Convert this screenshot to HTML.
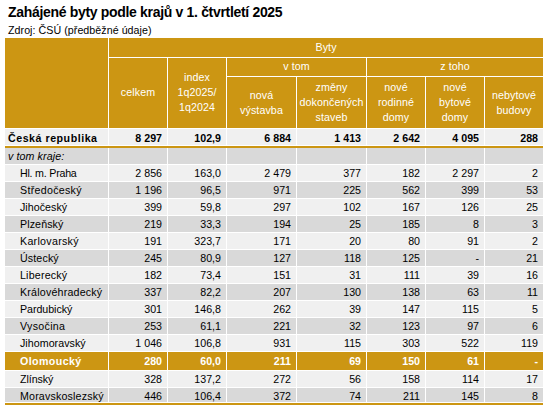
<!DOCTYPE html>
<html><head><meta charset="utf-8"><style>
html,body{margin:0;padding:0;background:#fff;}
body{width:544px;height:405px;overflow:hidden;position:relative;font-family:"Liberation Sans", sans-serif;font-size:10.67px;color:#000;}
div{position:absolute;}
.t{white-space:nowrap;line-height:15px;}
</style></head><body>
<div style="left:5px;top:38px;width:538px;height:90px;background:#cc9613"></div>
<div style="left:108px;top:57px;width:435px;height:1px;background:#fff"></div>
<div style="left:226px;top:76px;width:317px;height:1px;background:#fff"></div>
<div style="left:108px;top:38px;width:1px;height:90px;background:#fff"></div>
<div style="left:167px;top:57px;width:1px;height:71px;background:#fff"></div>
<div style="left:226px;top:57px;width:1px;height:71px;background:#fff"></div>
<div style="left:366px;top:57px;width:1px;height:71px;background:#fff"></div>
<div style="left:296px;top:76px;width:1px;height:52px;background:#fff"></div>
<div style="left:425px;top:76px;width:1px;height:52px;background:#fff"></div>
<div style="left:484px;top:76px;width:1px;height:52px;background:#fff"></div>
<div style="left:5px;top:128px;width:538px;height:1px;background:#fff"></div>
<div style="left:5px;top:129px;width:538px;height:16px;background:#f0f0f0"></div>
<div style="left:5px;top:148px;width:538px;height:16px;background:#d9d9d9"></div>
<div style="left:5px;top:165px;width:538px;height:16px;background:#f0f0f0"></div>
<div style="left:5px;top:182px;width:538px;height:16px;background:#d9d9d9"></div>
<div style="left:5px;top:199px;width:538px;height:16px;background:#f0f0f0"></div>
<div style="left:5px;top:216px;width:538px;height:16px;background:#d9d9d9"></div>
<div style="left:5px;top:233px;width:538px;height:16px;background:#f0f0f0"></div>
<div style="left:5px;top:250px;width:538px;height:16px;background:#d9d9d9"></div>
<div style="left:5px;top:267px;width:538px;height:16px;background:#f0f0f0"></div>
<div style="left:5px;top:284px;width:538px;height:16px;background:#d9d9d9"></div>
<div style="left:5px;top:301px;width:538px;height:16px;background:#f0f0f0"></div>
<div style="left:5px;top:318px;width:538px;height:16px;background:#d9d9d9"></div>
<div style="left:5px;top:335px;width:538px;height:16px;background:#f0f0f0"></div>
<div style="left:5px;top:352px;width:538px;height:18px;background:#cc9613"></div>
<div style="left:5px;top:371px;width:538px;height:16px;background:#f0f0f0"></div>
<div style="left:5px;top:388px;width:538px;height:14px;background:#d9d9d9"></div>
<div style="left:5px;top:146px;width:538px;height:2px;background:#cc9613"></div>
<div style="left:5px;top:403px;width:538px;height:2px;background:#cc9613"></div>
<div style="left:108px;top:129px;width:1px;height:16px;background:#fff"></div>
<div style="left:108px;top:148px;width:1px;height:255px;background:#fff"></div>
<div style="left:167px;top:129px;width:1px;height:16px;background:#fff"></div>
<div style="left:167px;top:148px;width:1px;height:255px;background:#fff"></div>
<div style="left:226px;top:129px;width:1px;height:16px;background:#fff"></div>
<div style="left:226px;top:148px;width:1px;height:255px;background:#fff"></div>
<div style="left:296px;top:129px;width:1px;height:16px;background:#fff"></div>
<div style="left:296px;top:148px;width:1px;height:255px;background:#fff"></div>
<div style="left:366px;top:129px;width:1px;height:16px;background:#fff"></div>
<div style="left:366px;top:148px;width:1px;height:255px;background:#fff"></div>
<div style="left:425px;top:129px;width:1px;height:16px;background:#fff"></div>
<div style="left:425px;top:148px;width:1px;height:255px;background:#fff"></div>
<div style="left:484px;top:129px;width:1px;height:16px;background:#fff"></div>
<div style="left:484px;top:148px;width:1px;height:255px;background:#fff"></div>
<div class="t" style="top:40px;left:109px;width:434px;text-align:center;color:#fff;letter-spacing:0.1px;">Byty</div>
<div class="t" style="top:59px;left:227px;width:139px;text-align:center;color:#fff;letter-spacing:0.1px;">v tom</div>
<div class="t" style="top:59px;left:367px;width:176px;text-align:center;color:#fff;letter-spacing:0.1px;">z toho</div>
<div class="t" style="top:85px;left:109px;width:58px;text-align:center;color:#fff;letter-spacing:0.1px;">celkem</div>
<div class="t" style="top:70px;left:168px;width:58px;text-align:center;color:#fff;letter-spacing:0.1px;">index</div>
<div class="t" style="top:85px;left:168px;width:58px;text-align:center;color:#fff;letter-spacing:0.1px;">1q2025/</div>
<div class="t" style="top:100px;left:168px;width:58px;text-align:center;color:#fff;letter-spacing:0.1px;">1q2024</div>
<div class="t" style="top:88px;left:227px;width:69px;text-align:center;color:#fff;letter-spacing:0.1px;">nová</div>
<div class="t" style="top:103px;left:227px;width:69px;text-align:center;color:#fff;letter-spacing:0.1px;">výstavba</div>
<div class="t" style="top:80px;left:297px;width:69px;text-align:center;color:#fff;letter-spacing:0.1px;">změny</div>
<div class="t" style="top:95px;left:297px;width:69px;text-align:center;color:#fff;letter-spacing:0.1px;">dokončených</div>
<div class="t" style="top:110px;left:297px;width:69px;text-align:center;color:#fff;letter-spacing:0.1px;">staveb</div>
<div class="t" style="top:80px;left:367px;width:58px;text-align:center;color:#fff;letter-spacing:0.1px;">nové</div>
<div class="t" style="top:95px;left:367px;width:58px;text-align:center;color:#fff;letter-spacing:0.1px;">rodinné</div>
<div class="t" style="top:110px;left:367px;width:58px;text-align:center;color:#fff;letter-spacing:0.1px;">domy</div>
<div class="t" style="top:80px;left:426px;width:58px;text-align:center;color:#fff;letter-spacing:0.1px;">nové</div>
<div class="t" style="top:95px;left:426px;width:58px;text-align:center;color:#fff;letter-spacing:0.1px;">bytové</div>
<div class="t" style="top:110px;left:426px;width:58px;text-align:center;color:#fff;letter-spacing:0.1px;">domy</div>
<div class="t" style="top:88px;left:485px;width:58px;text-align:center;color:#fff;letter-spacing:0.1px;">nebytové</div>
<div class="t" style="top:103px;left:485px;width:58px;text-align:center;color:#fff;letter-spacing:0.1px;">budovy</div>
<div class="t" style="top:131px;left:8px;font-weight:bold;letter-spacing:0.52px;">Česká republika</div>
<div class="t" style="top:131px;left:-38px;width:200px;text-align:right;font-weight:bold;">8 297</div>
<div class="t" style="top:131px;left:21px;width:200px;text-align:right;font-weight:bold;">102,9</div>
<div class="t" style="top:131px;left:91px;width:200px;text-align:right;font-weight:bold;">6 884</div>
<div class="t" style="top:131px;left:161px;width:200px;text-align:right;font-weight:bold;">1 413</div>
<div class="t" style="top:131px;left:220px;width:200px;text-align:right;font-weight:bold;">2 642</div>
<div class="t" style="top:131px;left:279px;width:200px;text-align:right;font-weight:bold;">4 095</div>
<div class="t" style="top:131px;left:338px;width:200px;text-align:right;font-weight:bold;">288</div>
<div class="t" style="top:149px;left:8px;font-style:italic;letter-spacing:0.1px;">v tom kraje:</div>
<div class="t" style="top:166px;left:20px;letter-spacing:-0.22px;">Hl. m. Praha</div>
<div class="t" style="top:166px;left:-38px;width:200px;text-align:right;">2 856</div>
<div class="t" style="top:166px;left:21px;width:200px;text-align:right;">163,0</div>
<div class="t" style="top:166px;left:91px;width:200px;text-align:right;">2 479</div>
<div class="t" style="top:166px;left:161px;width:200px;text-align:right;">377</div>
<div class="t" style="top:166px;left:220px;width:200px;text-align:right;">182</div>
<div class="t" style="top:166px;left:279px;width:200px;text-align:right;">2 297</div>
<div class="t" style="top:166px;left:338px;width:200px;text-align:right;">2</div>
<div class="t" style="top:183px;left:20px;letter-spacing:0.29px;">Středočeský</div>
<div class="t" style="top:183px;left:-38px;width:200px;text-align:right;">1 196</div>
<div class="t" style="top:183px;left:21px;width:200px;text-align:right;">96,5</div>
<div class="t" style="top:183px;left:91px;width:200px;text-align:right;">971</div>
<div class="t" style="top:183px;left:161px;width:200px;text-align:right;">225</div>
<div class="t" style="top:183px;left:220px;width:200px;text-align:right;">562</div>
<div class="t" style="top:183px;left:279px;width:200px;text-align:right;">399</div>
<div class="t" style="top:183px;left:338px;width:200px;text-align:right;">53</div>
<div class="t" style="top:200px;left:20px;letter-spacing:0.04px;">Jihočeský</div>
<div class="t" style="top:200px;left:-38px;width:200px;text-align:right;">399</div>
<div class="t" style="top:200px;left:21px;width:200px;text-align:right;">59,8</div>
<div class="t" style="top:200px;left:91px;width:200px;text-align:right;">297</div>
<div class="t" style="top:200px;left:161px;width:200px;text-align:right;">102</div>
<div class="t" style="top:200px;left:220px;width:200px;text-align:right;">167</div>
<div class="t" style="top:200px;left:279px;width:200px;text-align:right;">126</div>
<div class="t" style="top:200px;left:338px;width:200px;text-align:right;">25</div>
<div class="t" style="top:217px;left:20px;letter-spacing:0.1px;">Plzeňský</div>
<div class="t" style="top:217px;left:-38px;width:200px;text-align:right;">219</div>
<div class="t" style="top:217px;left:21px;width:200px;text-align:right;">33,3</div>
<div class="t" style="top:217px;left:91px;width:200px;text-align:right;">194</div>
<div class="t" style="top:217px;left:161px;width:200px;text-align:right;">25</div>
<div class="t" style="top:217px;left:220px;width:200px;text-align:right;">185</div>
<div class="t" style="top:217px;left:279px;width:200px;text-align:right;">8</div>
<div class="t" style="top:217px;left:338px;width:200px;text-align:right;">3</div>
<div class="t" style="top:234px;left:20px;letter-spacing:0.29px;">Karlovarský</div>
<div class="t" style="top:234px;left:-38px;width:200px;text-align:right;">191</div>
<div class="t" style="top:234px;left:21px;width:200px;text-align:right;">323,7</div>
<div class="t" style="top:234px;left:91px;width:200px;text-align:right;">171</div>
<div class="t" style="top:234px;left:161px;width:200px;text-align:right;">20</div>
<div class="t" style="top:234px;left:220px;width:200px;text-align:right;">80</div>
<div class="t" style="top:234px;left:279px;width:200px;text-align:right;">91</div>
<div class="t" style="top:234px;left:338px;width:200px;text-align:right;">2</div>
<div class="t" style="top:251px;left:20px;letter-spacing:0.13px;">Ústecký</div>
<div class="t" style="top:251px;left:-38px;width:200px;text-align:right;">245</div>
<div class="t" style="top:251px;left:21px;width:200px;text-align:right;">80,9</div>
<div class="t" style="top:251px;left:91px;width:200px;text-align:right;">127</div>
<div class="t" style="top:251px;left:161px;width:200px;text-align:right;">118</div>
<div class="t" style="top:251px;left:220px;width:200px;text-align:right;">125</div>
<div class="t" style="top:251px;left:279px;width:200px;text-align:right;">-</div>
<div class="t" style="top:251px;left:338px;width:200px;text-align:right;">21</div>
<div class="t" style="top:268px;left:20px;letter-spacing:0.19px;">Liberecký</div>
<div class="t" style="top:268px;left:-38px;width:200px;text-align:right;">182</div>
<div class="t" style="top:268px;left:21px;width:200px;text-align:right;">73,4</div>
<div class="t" style="top:268px;left:91px;width:200px;text-align:right;">151</div>
<div class="t" style="top:268px;left:161px;width:200px;text-align:right;">31</div>
<div class="t" style="top:268px;left:220px;width:200px;text-align:right;">111</div>
<div class="t" style="top:268px;left:279px;width:200px;text-align:right;">39</div>
<div class="t" style="top:268px;left:338px;width:200px;text-align:right;">16</div>
<div class="t" style="top:285px;left:20px;letter-spacing:0.2px;">Královéhradecký</div>
<div class="t" style="top:285px;left:-38px;width:200px;text-align:right;">337</div>
<div class="t" style="top:285px;left:21px;width:200px;text-align:right;">82,2</div>
<div class="t" style="top:285px;left:91px;width:200px;text-align:right;">207</div>
<div class="t" style="top:285px;left:161px;width:200px;text-align:right;">130</div>
<div class="t" style="top:285px;left:220px;width:200px;text-align:right;">138</div>
<div class="t" style="top:285px;left:279px;width:200px;text-align:right;">63</div>
<div class="t" style="top:285px;left:338px;width:200px;text-align:right;">11</div>
<div class="t" style="top:302px;left:20px;letter-spacing:-0.04px;">Pardubický</div>
<div class="t" style="top:302px;left:-38px;width:200px;text-align:right;">301</div>
<div class="t" style="top:302px;left:21px;width:200px;text-align:right;">146,8</div>
<div class="t" style="top:302px;left:91px;width:200px;text-align:right;">262</div>
<div class="t" style="top:302px;left:161px;width:200px;text-align:right;">39</div>
<div class="t" style="top:302px;left:220px;width:200px;text-align:right;">147</div>
<div class="t" style="top:302px;left:279px;width:200px;text-align:right;">115</div>
<div class="t" style="top:302px;left:338px;width:200px;text-align:right;">5</div>
<div class="t" style="top:319px;left:20px;letter-spacing:0.31px;">Vysočina</div>
<div class="t" style="top:319px;left:-38px;width:200px;text-align:right;">253</div>
<div class="t" style="top:319px;left:21px;width:200px;text-align:right;">61,1</div>
<div class="t" style="top:319px;left:91px;width:200px;text-align:right;">221</div>
<div class="t" style="top:319px;left:161px;width:200px;text-align:right;">32</div>
<div class="t" style="top:319px;left:220px;width:200px;text-align:right;">123</div>
<div class="t" style="top:319px;left:279px;width:200px;text-align:right;">97</div>
<div class="t" style="top:319px;left:338px;width:200px;text-align:right;">6</div>
<div class="t" style="top:336px;left:20px;letter-spacing:0.04px;">Jihomoravský</div>
<div class="t" style="top:336px;left:-38px;width:200px;text-align:right;">1 046</div>
<div class="t" style="top:336px;left:21px;width:200px;text-align:right;">106,8</div>
<div class="t" style="top:336px;left:91px;width:200px;text-align:right;">931</div>
<div class="t" style="top:336px;left:161px;width:200px;text-align:right;">115</div>
<div class="t" style="top:336px;left:220px;width:200px;text-align:right;">303</div>
<div class="t" style="top:336px;left:279px;width:200px;text-align:right;">522</div>
<div class="t" style="top:336px;left:338px;width:200px;text-align:right;">119</div>
<div class="t" style="top:354px;left:20px;font-weight:bold;color:#fff;letter-spacing:0.4px;">Olomoucký</div>
<div class="t" style="top:354px;left:-38px;width:200px;text-align:right;font-weight:bold;color:#fff;">280</div>
<div class="t" style="top:354px;left:21px;width:200px;text-align:right;font-weight:bold;color:#fff;">60,0</div>
<div class="t" style="top:354px;left:91px;width:200px;text-align:right;font-weight:bold;color:#fff;">211</div>
<div class="t" style="top:354px;left:161px;width:200px;text-align:right;font-weight:bold;color:#fff;">69</div>
<div class="t" style="top:354px;left:220px;width:200px;text-align:right;font-weight:bold;color:#fff;">150</div>
<div class="t" style="top:354px;left:279px;width:200px;text-align:right;font-weight:bold;color:#fff;">61</div>
<div class="t" style="top:354px;left:338px;width:200px;text-align:right;font-weight:bold;color:#fff;">-</div>
<div class="t" style="top:372px;left:20px;letter-spacing:-0.07px;">Zlínský</div>
<div class="t" style="top:372px;left:-38px;width:200px;text-align:right;">328</div>
<div class="t" style="top:372px;left:21px;width:200px;text-align:right;">137,2</div>
<div class="t" style="top:372px;left:91px;width:200px;text-align:right;">272</div>
<div class="t" style="top:372px;left:161px;width:200px;text-align:right;">56</div>
<div class="t" style="top:372px;left:220px;width:200px;text-align:right;">158</div>
<div class="t" style="top:372px;left:279px;width:200px;text-align:right;">114</div>
<div class="t" style="top:372px;left:338px;width:200px;text-align:right;">17</div>
<div class="t" style="top:389px;left:20px;letter-spacing:0.17px;">Moravskoslezský</div>
<div class="t" style="top:389px;left:-38px;width:200px;text-align:right;">446</div>
<div class="t" style="top:389px;left:21px;width:200px;text-align:right;">106,4</div>
<div class="t" style="top:389px;left:91px;width:200px;text-align:right;">372</div>
<div class="t" style="top:389px;left:161px;width:200px;text-align:right;">74</div>
<div class="t" style="top:389px;left:220px;width:200px;text-align:right;">211</div>
<div class="t" style="top:389px;left:279px;width:200px;text-align:right;">145</div>
<div class="t" style="top:389px;left:338px;width:200px;text-align:right;">8</div>
<div class="t" style="top:5px;left:8px;font-weight:bold;font-size:14px;letter-spacing:-0.32px;">Zahájené byty podle krajů v 1. čtvrtletí 2025</div>
<div class="t" style="top:23px;left:8px;letter-spacing:0.05px;">Zdroj: ČSÚ (předběžné údaje)</div>
</body></html>
